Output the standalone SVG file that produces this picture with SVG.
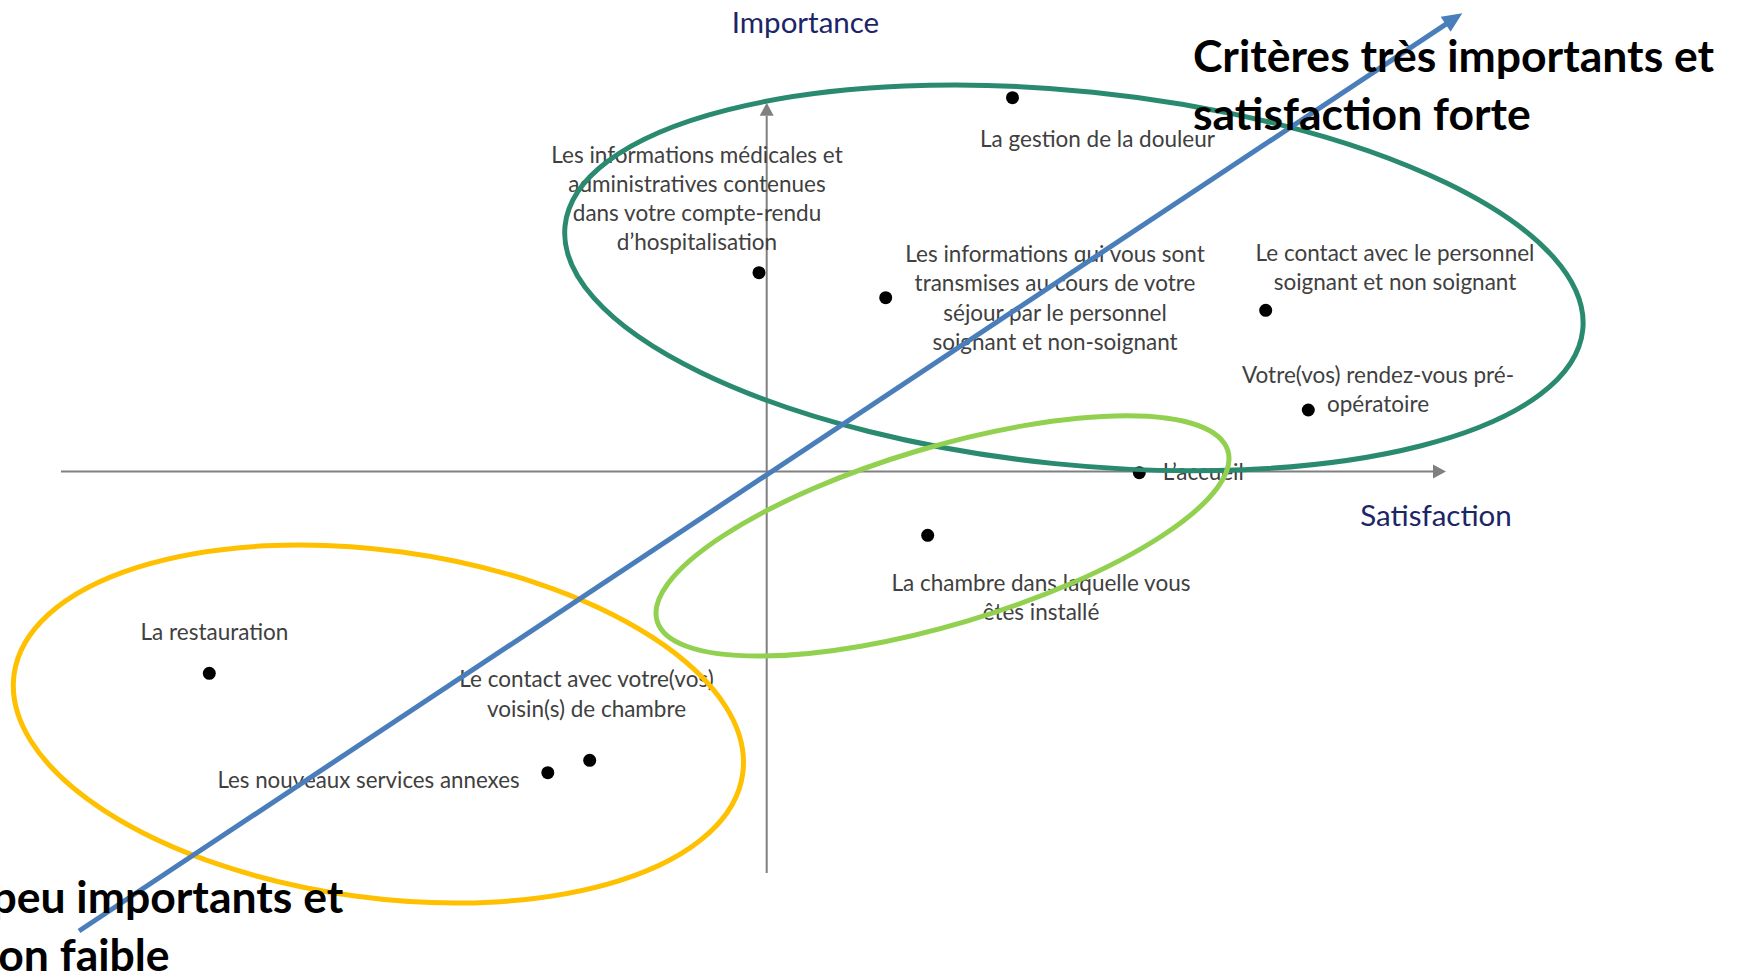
<svg xmlns="http://www.w3.org/2000/svg" width="1740" height="978" viewBox="0 0 1740 978">
<defs>
<style>
.lbl{font-family:Lato,"Open Sans","Liberation Sans",sans-serif;font-size:22.5px;fill:#404040;text-anchor:middle}
.ax{font-family:Lato,"Open Sans","Liberation Sans",sans-serif;font-size:29.5px;fill:#1C2566;text-anchor:middle}
.ttl{font-family:Lato,"Open Sans","Liberation Sans",sans-serif;font-size:44.5px;font-weight:bold;fill:#000}
.dot{fill:#000}
.axis{stroke:#808080;stroke-width:2;fill:none}
.ell{fill:none;stroke-width:5}
</style>
<marker id="axhead" markerUnits="userSpaceOnUse" markerWidth="14" markerHeight="15" refX="0" refY="7" orient="auto" overflow="visible">
<path d="M0,0 L13,7 L0,14 z" fill="#808080"/>
</marker>
<marker id="bluehead" markerUnits="userSpaceOnUse" markerWidth="22" markerHeight="20" refX="5" refY="9" orient="auto" overflow="visible">
<path d="M0,0 L20,9 L0,18 z" fill="#4A7EBB"/>
</marker>
</defs>
<rect width="1740" height="978" fill="#fff"/>

<g id="axes">
<line class="axis" x1="61" y1="471.5" x2="1433" y2="471.5" marker-end="url(#axhead)"/>
<line class="axis" x1="766.7" y1="873" x2="766.7" y2="115.7" marker-end="url(#axhead)"/>
<text id="axis-importance" class="ax" x="805.5" y="33">Importance</text>
<text id="axis-satisfaction" class="ax" x="1436" y="525.7">Satisfaction</text>
</g>

<g id="pt-douleur"><circle class="dot" cx="1012.5" cy="97.7" r="6.5"/><text class="lbl" x="1097.5" y="146.7">La gestion de la douleur</text></g>
<g id="pt-infos-medicales"><circle class="dot" cx="759" cy="272.7" r="6.5"/><text class="lbl" x="697" y="163"><tspan x="697">Les informations médicales et</tspan><tspan x="697" dy="29.1">administratives contenues</tspan><tspan x="697" dy="29.1">dans votre compte-rendu</tspan><tspan x="697" dy="29.1">d’hospitalisation</tspan></text></g>
<g id="pt-infos-sejour"><circle class="dot" cx="885.7" cy="297.7" r="6.5"/><text class="lbl" x="1055" y="262"><tspan x="1055">Les informations qui vous sont</tspan><tspan x="1055" dy="29.3">transmises au cours de votre</tspan><tspan x="1055" dy="29.3">séjour par le personnel</tspan><tspan x="1055" dy="29.3">soignant et non-soignant</tspan></text></g>
<g id="pt-contact-personnel"><circle class="dot" cx="1265.7" cy="310.3" r="6.5"/><text class="lbl" x="1395" y="260.7"><tspan x="1395">Le contact avec le personnel</tspan><tspan x="1395" dy="29.3">soignant et non soignant</tspan></text></g>
<g id="pt-rdv"><circle class="dot" cx="1308.3" cy="410" r="6.5"/><text class="lbl" x="1378" y="382.7"><tspan x="1378">Votre(vos) rendez-vous pré-</tspan><tspan x="1378" dy="29">opératoire</tspan></text></g>
<g id="pt-accueil"><circle class="dot" cx="1139.3" cy="472.7" r="6.5"/><text class="lbl" x="1162.7" y="480" style="text-anchor:start">L’accueil</text></g>
<g id="pt-chambre"><circle class="dot" cx="927.7" cy="535.3" r="6.5"/><text class="lbl" x="1041" y="590.7"><tspan x="1041">La chambre dans laquelle vous</tspan><tspan x="1041" dy="29">êtes installé</tspan></text></g>
<g id="pt-restauration"><circle class="dot" cx="209.3" cy="673.3" r="6.5"/><text class="lbl" x="214.5" y="640">La restauration</text></g>
<g id="pt-voisin"><circle class="dot" cx="589.7" cy="760.3" r="6.5"/><text class="lbl" x="586.5" y="687.4"><tspan x="586.5">Le contact avec votre(vos)</tspan><tspan x="586.5" dy="29.3">voisin(s) de chambre</tspan></text></g>
<g id="pt-services"><circle class="dot" cx="547.8" cy="772.7" r="6.5"/><text class="lbl" x="368.5" y="787.7" style="font-size:22.3px">Les nouveaux services annexes</text></g>

<g id="groups">
<ellipse id="zone-forte" class="ell" stroke="#2A8A6F" cx="1073.9" cy="277.9" rx="511.5" ry="186.7" transform="rotate(5.83 1073.9 277.9)"/>
<ellipse id="zone-faible" class="ell" stroke="#FFC000" cx="378.4" cy="724" rx="367.7" ry="173.6" transform="rotate(7.75 378.4 724)"/>
<ellipse id="zone-moyenne" class="ell" stroke="#92D050" cx="942.5" cy="535.9" rx="297.8" ry="88.6" transform="rotate(-16.6 942.5 535.9)"/>
</g>

<g id="connectors">
<line x1="79" y1="931" x2="1449.8" y2="21.6" stroke="#4A7EBB" stroke-width="5" marker-end="url(#bluehead)"/>
</g>

<g id="titles">
<text class="ttl" x="1193" y="72">Critères très importants et</text>
<text class="ttl" x="1193" y="129.8">satisfaction forte</text>
<text class="ttl" x="343.3" y="913" style="text-anchor:end">peu importants et</text>
<text class="ttl" x="169.6" y="970.5" style="text-anchor:end">on faible</text>
</g>
</svg>
